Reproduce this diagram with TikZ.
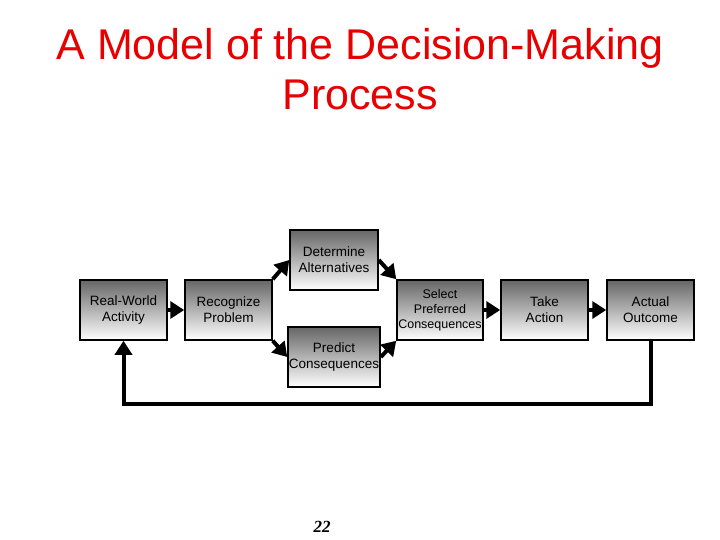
\documentclass[tikz,border=0pt]{standalone}
\usepackage{fontspec}
\setmainfont{Liberation Sans}
\newfontfamily\serifnum{Liberation Serif}
\usetikzlibrary{arrows.meta}
\definecolor{titlered}{RGB}{230,0,0}
\tikzset{
  blk/.style={draw=black, line width=1.5pt, top color=black!60, bottom color=white, minimum width=87pt, minimum height=60pt, inner sep=1pt, align=center, font=\fontsize{13.5}{16}\selectfont},
  conn/.style={line width=4pt, -{Triangle[length=14pt,width=17pt]}}
}
\begin{document}
\begin{tikzpicture}[x=1pt,y=-1pt]
\useasboundingbox (0,0) rectangle (720,540);
\node[font=\fontsize{43}{50}\selectfont, text=titlered, align=center] (title) at (360,69) {A Model of the Decision-Making\\Process};
\node[blk] (rw) at (123.5,310) {Real-World\\Activity};
\node[blk] (rp) at (228.5,310) {Recognize\\Problem};
\node[blk, minimum width=88pt] (da) at (334,260) {Determine\\Alternatives};
\node[blk, minimum width=88pt] (pc) at (334,357) {Predict\\Consequences};
\node[blk, minimum width=86pt, font=\fontsize{12.5}{15}\selectfont] (sp) at (440,310) {Select\\Preferred\\Consequences};
\node[blk] (ta) at (544.5,310) {Take\\Action};
\node[blk] (ao) at (650.5,310) {Actual\\Outcome};
\node[font=\serifnum\bfseries\itshape\fontsize{17}{20}\selectfont] (pg) at (322,527) {22};
\draw[conn] (rw) -- (rp);
\draw[conn] (rp.north east) -- (da.west);
\draw[conn] (rp.south east) -- (pc.west);
\draw[conn] (da.east) -- (sp.north west);
\draw[conn] (pc.east) -- (sp.south west);
\draw[conn] (sp) -- (ta);
\draw[conn] (ta) -- (ao);
\draw[conn] (ao.south) |- (123.5,404) -- (rw.south);
\end{tikzpicture}
\end{document}
